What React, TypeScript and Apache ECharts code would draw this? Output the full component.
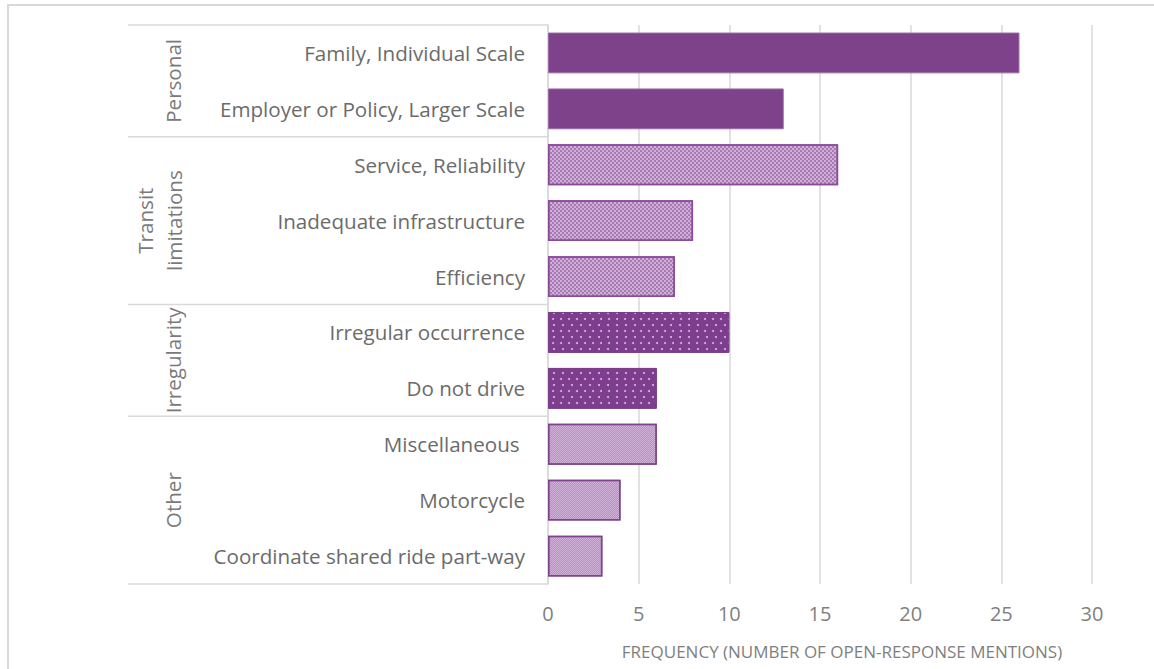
import React, { useEffect, useRef } from "react";
import * as echarts from "echarts";

// ---- data ----
const categories = [
  "Family, Individual Scale",
  "Employer or Policy, Larger Scale",
  "Service, Reliability",
  "Inadequate infrastructure",
  "Efficiency",
  "Irregular occurrence",
  "Do not drive",
  "Miscellaneous ",
  "Motorcycle",
  "Coordinate shared ride part-way",
];
const values = [26, 13, 16, 8, 7, 10, 6, 6, 4, 3];
const groupOf = [0, 0, 1, 1, 1, 2, 2, 3, 3, 3];
const groupLabels = ["Personal", "Transit\nlimitations", "Irregularity", "Other"];
const xMin = 0;
const xMax = 30;
const xInterval = 5;
const axisTitle = "FREQUENCY (NUMBER OF OPEN-RESPONSE MENTIONS)";

// ---- styles per group ----
const groupStyles: any[] = [
  { color: "#7D4289", borderColor: "#9A6AA6", borderWidth: 1 },
  {
    color: "#D0B0D8",
    borderColor: "#8B4B9B",
    borderWidth: 1.5,
    decal: {
      symbol: "rect",
      symbolSize: 0.8,
      color: "#8D5499",
      dashArrayX: [[1.6, 1.6], [0, 1.6, 1.6, 0]],
      dashArrayY: [1.6, 0],
    },
  },
  {
    color: "#7C3E8D",
    borderColor: "#7C3E8D",
    borderWidth: 1,
    decal: {
      symbol: "circle",
      symbolSize: 1,
      color: "#D9B8E2",
      dashArrayX: [[1.5, 6], [0, 3.75, 1.5, 2.25]],
      dashArrayY: [1.5, 3.9],
    },
  },
  {
    color: "#CDAED5",
    borderColor: "#7E4489",
    borderWidth: 1.5,
    decal: {
      symbol: "rect",
      symbolSize: 1,
      color: "#B994C2",
      dashArrayX: [[1, 1], [0, 1, 1, 0]],
      dashArrayY: [1, 0],
    },
  },
];

const FONT = "Open Sans";

export default function App() {
  const ref = useRef<HTMLDivElement>(null);

  useEffect(() => {
    if (!ref.current) return;
    const chart = echarts.init(ref.current, null, { renderer: "svg" });

    const grid = { left: 548, right: 62, top: 25, bottom: 85 };

    chart.setOption({
      animation: false,
      backgroundColor: "#ffffff",
      grid,
      xAxis: {
        type: "value",
        min: xMin,
        max: xMax,
        interval: xInterval,
        axisLine: { show: false },
        axisTick: { show: false },
        splitLine: { show: true, lineStyle: { color: "#d9d9d9", width: 1.5 } },
        axisLabel: { fontSize: 20, color: "#7f7f7f", fontFamily: FONT, margin: 19 },
      },
      yAxis: {
        type: "category",
        inverse: true,
        data: categories,
        axisLine: { show: true, lineStyle: { color: "#d9d9d9", width: 1.5 } },
        axisTick: { show: false },
        axisLabel: { fontSize: 20.6, color: "#6b6b6b", fontFamily: FONT, margin: 23 },
      },
      series: [
        {
          type: "bar",
          barCategoryGap: "27%",
          data: values.map((v, i) => ({
            value: v,
            itemStyle: groupStyles[groupOf[i]],
          })),
        },
      ],
    });

    // group separators and labels, from the category axis scale
    const c0 = chart.convertToPixel({ yAxisIndex: 0 }, 0) as number;
    const c1 = chart.convertToPixel({ yAxisIndex: 0 }, 1) as number;
    const band = c1 - c0;
    const axisX = chart.convertToPixel({ xAxisIndex: 0 }, 0) as number;
    const graphics: any[] = [
      {
        type: "rect",
        shape: { x: 8, y: 5, width: 1400, height: 900 },
        style: { fill: "none", stroke: "#d9d9d9", lineWidth: 2 },
        silent: true,
        z: -10,
      },
    ];
    const boundaries: number[] = [];
    groupLabels.forEach((label, g) => {
      const idx = groupOf.map((x, i) => (x === g ? i : -1)).filter((i) => i >= 0);
      const first = idx[0];
      const last = idx[idx.length - 1];
      const top = (chart.convertToPixel({ yAxisIndex: 0 }, first) as number) - band / 2;
      const bottom = (chart.convertToPixel({ yAxisIndex: 0 }, last) as number) + band / 2;
      if (g === 0) boundaries.push(top);
      boundaries.push(bottom);
      const lines = label.split("\n").length;
      graphics.push({
        type: "text",
        x: 173 - (lines - 1) * 14,
        y: (top + bottom) / 2,
        rotation: Math.PI / 2,
        style: {
          text: label,
          fontSize: 20.6,
          fontFamily: FONT,
          fill: "#7a7a7a",
          align: "center",
          verticalAlign: "middle",
          lineHeight: 29,
        },
      });
    });
    boundaries.forEach((y) => {
      graphics.push({
        type: "line",
        shape: { x1: 128, y1: y, x2: axisX, y2: y },
        style: { stroke: "#d9d9d9", lineWidth: 1.5 },
        silent: true,
      });
    });
    graphics.push({
      type: "text",
      x: 842,
      y: 651,
      style: {
        text: axisTitle,
        fontSize: 17,
        fontFamily: FONT,
        fill: "#7f7f7f",
        align: "center",
        verticalAlign: "middle",
      },
    });
    chart.setOption({ graphic: graphics });

    return () => chart.dispose();
  }, []);

  return (
    <div
      ref={ref}
      style={{ position: "absolute", left: 0, top: 0, width: 1154, height: 669 }}
    />
  );
}
